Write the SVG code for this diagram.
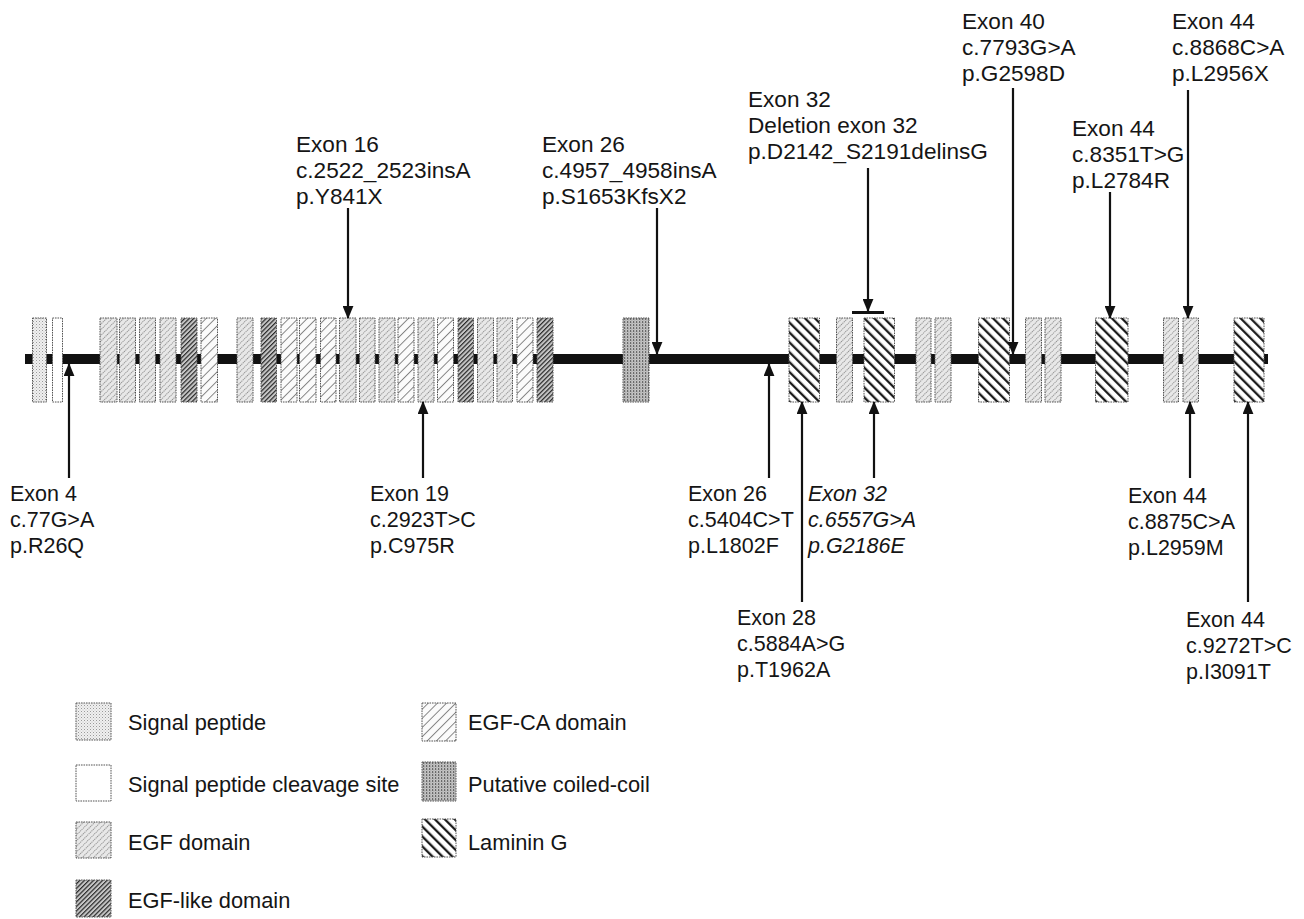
<svg xmlns="http://www.w3.org/2000/svg" width="1304" height="919" viewBox="0 0 1304 919">
<defs>
<pattern id="pSig" patternUnits="userSpaceOnUse" width="3" height="3">
<rect width="3" height="3" fill="#f0f0f0"/><rect x="0" y="0" width="1" height="1" fill="#9a9a9a"/><rect x="1.5" y="1.5" width="1" height="1" fill="#c0c0c0"/>
</pattern>
<pattern id="pEgf" patternUnits="userSpaceOnUse" width="4" height="4" patternTransform="rotate(45)">
<rect width="4" height="4" fill="#e8e8e8"/><line x1="0.5" y1="0" x2="0.5" y2="4" stroke="#858585" stroke-width="0.9" stroke-dasharray="1.2 0.8"/>
</pattern>
<pattern id="pLike" patternUnits="userSpaceOnUse" width="3.2" height="3.2" patternTransform="rotate(45)">
<rect width="3.2" height="3.2" fill="#c6c6c6"/><line x1="0.6" y1="0" x2="0.6" y2="3.2" stroke="#2a2a2a" stroke-width="1.2"/>
</pattern>
<pattern id="pCa" patternUnits="userSpaceOnUse" width="6.5" height="6.5" patternTransform="rotate(45)">
<rect width="6.5" height="6.5" fill="#fbfbfb"/><line x1="0.5" y1="0" x2="0.5" y2="6.5" stroke="#7a7a7a" stroke-width="0.9"/>
</pattern>
<pattern id="pCoil" patternUnits="userSpaceOnUse" width="3" height="3">
<rect width="3" height="3" fill="#c4c4c4"/><rect x="0" y="0" width="1.2" height="2" fill="#6a6a6a"/><rect x="1.5" y="1.5" width="0.8" height="1" fill="#8c8c8c"/>
</pattern>
<pattern id="pLam" patternUnits="userSpaceOnUse" width="7" height="7" patternTransform="rotate(-45)">
<rect width="7" height="7" fill="#ffffff"/><line x1="1.2" y1="0" x2="1.2" y2="7" stroke="#111" stroke-width="2.2"/>
</pattern>
<marker id="ah" viewBox="0 0 12 10" refX="11" refY="5" markerWidth="13" markerHeight="11" markerUnits="userSpaceOnUse" orient="auto">
<path d="M0,0 L12,5 L0,10 z" fill="#111"/>
</marker>
</defs>
<style>
.box{stroke:#555;stroke-width:1;stroke-dasharray:1.6 0.9}
.sig{fill:url(#pSig)}
.clv{fill:#fff}
.egf{fill:url(#pEgf)}
.like{fill:url(#pLike)}
.ca{fill:url(#pCa)}
.coil{fill:url(#pCoil)}
.lam{fill:url(#pLam)}
text{font-family:"Liberation Sans",Arial,Helvetica,sans-serif;fill:#151515}
.up{font-size:22.6px}
.lo{font-size:21.5px}
.it{font-style:italic}
.lg{font-size:21.8px}
.arr{stroke:#111;stroke-width:2.2;fill:none;marker-end:url(#ah)}
.tbar{stroke:#111;stroke-width:3}
</style>
<rect width="1304" height="919" fill="#fff"/>
<g id="backbone"><rect x="25" y="354" width="1243" height="10" fill="#111"/></g>
<g id="domains">
<g id="b1"><rect class="box sig" x="32.5" y="318" width="14" height="84"/></g>
<g id="b2"><rect class="box clv" x="52.5" y="318" width="10" height="84"/></g>
<g id="b3"><rect class="box egf" x="100" y="318" width="17" height="84"/></g>
<g id="b4"><rect class="box egf" x="119.5" y="318" width="16" height="84"/></g>
<g id="b5"><rect class="box egf" x="139.5" y="318" width="16" height="84"/></g>
<g id="b6"><rect class="box egf" x="160" y="318" width="16" height="84"/></g>
<g id="b7"><rect class="box like" x="181" y="318" width="16" height="84"/></g>
<g id="b8"><rect class="box ca" x="201" y="318" width="16.5" height="84"/></g>
<g id="b9"><rect class="box egf" x="237" y="318" width="16" height="84"/></g>
<g id="b10"><rect class="box like" x="261" y="318" width="15.5" height="84"/></g>
<g id="b11"><rect class="box ca" x="281" y="318" width="16" height="84"/></g>
<g id="b12"><rect class="box ca" x="299.5" y="318" width="16.5" height="84"/></g>
<g id="b13"><rect class="box ca" x="320.5" y="318" width="15.5" height="84"/></g>
<g id="b14"><rect class="box egf" x="339.5" y="318" width="16.5" height="84"/></g>
<g id="b15"><rect class="box egf" x="359.5" y="318" width="15.5" height="84"/></g>
<g id="b16"><rect class="box egf" x="379" y="318" width="16" height="84"/></g>
<g id="b17"><rect class="box ca" x="398" y="318" width="16" height="84"/></g>
<g id="b18"><rect class="box egf" x="418" y="318" width="16" height="84"/></g>
<g id="b19"><rect class="box ca" x="437.5" y="318" width="16" height="84"/></g>
<g id="b20"><rect class="box like" x="458" y="318" width="15.5" height="84"/></g>
<g id="b21"><rect class="box egf" x="477.5" y="318" width="16" height="84"/></g>
<g id="b22"><rect class="box egf" x="497" y="318" width="15.5" height="84"/></g>
<g id="b23"><rect class="box ca" x="517" y="318" width="16" height="84"/></g>
<g id="b24"><rect class="box like" x="537" y="318" width="16" height="84"/></g>
<g id="b25"><rect class="box coil" x="623" y="318" width="26" height="84"/></g>
<g id="b26"><rect class="box lam" x="789" y="318" width="30.5" height="84"/></g>
<g id="b27"><rect class="box egf" x="836.5" y="318" width="16" height="84"/></g>
<g id="b28"><rect class="box lam" x="864" y="318" width="30.5" height="84"/></g>
<g id="b29"><rect class="box egf" x="916" y="318" width="15" height="84"/></g>
<g id="b30"><rect class="box egf" x="935" y="318" width="16" height="84"/></g>
<g id="b31"><rect class="box lam" x="978.5" y="318" width="31" height="84"/></g>
<g id="b32"><rect class="box egf" x="1025.5" y="318" width="16" height="84"/></g>
<g id="b33"><rect class="box egf" x="1045" y="318" width="16" height="84"/></g>
<g id="b34"><rect class="box lam" x="1095.5" y="318" width="32.5" height="84"/></g>
<g id="b35"><rect class="box egf" x="1163.5" y="318" width="15" height="84"/></g>
<g id="b36"><rect class="box egf" x="1183" y="318" width="15.5" height="84"/></g>
<g id="b37"><rect class="box lam" x="1234" y="318" width="30" height="84"/></g>
</g>
<g id="connectors">
<line class="arr" x1="69" y1="478" x2="69" y2="364"/>
<line class="arr" x1="348" y1="208" x2="348" y2="318"/>
<line class="arr" x1="423" y1="478" x2="423" y2="402"/>
<line class="arr" x1="657" y1="208" x2="657" y2="354"/>
<line class="arr" x1="769" y1="478" x2="769" y2="364"/>
<line class="arr" x1="802" y1="602" x2="802" y2="402"/>
<line class="arr" x1="868" y1="168" x2="868" y2="311"/>
<line class="tbar" x1="852" y1="312.5" x2="884" y2="312.5"/>
<line class="arr" x1="874" y1="478" x2="874" y2="402"/>
<line class="arr" x1="1013" y1="88" x2="1013" y2="354"/>
<line class="arr" x1="1110" y1="192" x2="1110" y2="318"/>
<line class="arr" x1="1188" y1="90" x2="1188" y2="318"/>
<line class="arr" x1="1190" y1="478" x2="1190" y2="402"/>
<line class="arr" x1="1248" y1="602" x2="1248" y2="402"/>
</g>
<g id="lbl-exon16"><text class="up" x="296"><tspan x="296" y="152">Exon 16</tspan><tspan x="296" y="178">c.2522_2523insA</tspan><tspan x="296" y="204">p.Y841X</tspan></text></g>
<g id="lbl-exon26a"><text class="up" x="542"><tspan x="542" y="152">Exon 26</tspan><tspan x="542" y="178">c.4957_4958insA</tspan><tspan x="542" y="204">p.S1653KfsX2</tspan></text></g>
<g id="lbl-exon32a"><text class="up" x="748"><tspan x="748" y="107">Exon 32</tspan><tspan x="748" y="133">Deletion exon 32</tspan><tspan x="748" y="159">p.D2142_S2191delinsG</tspan></text></g>
<g id="lbl-exon40"><text class="up" x="962"><tspan x="962" y="29">Exon 40</tspan><tspan x="962" y="55">c.7793G&gt;A</tspan><tspan x="962" y="81">p.G2598D</tspan></text></g>
<g id="lbl-exon44a"><text class="up" x="1172"><tspan x="1172" y="29">Exon 44</tspan><tspan x="1172" y="55">c.8868C&gt;A</tspan><tspan x="1172" y="81">p.L2956X</tspan></text></g>
<g id="lbl-exon44b"><text class="up" x="1072"><tspan x="1072" y="136">Exon 44</tspan><tspan x="1072" y="162">c.8351T&gt;G</tspan><tspan x="1072" y="188">p.L2784R</tspan></text></g>
<g id="lbl-exon4"><text class="lo" x="10"><tspan x="10" y="501">Exon 4</tspan><tspan x="10" y="527">c.77G&gt;A</tspan><tspan x="10" y="553">p.R26Q</tspan></text></g>
<g id="lbl-exon19"><text class="lo" x="370"><tspan x="370" y="501">Exon 19</tspan><tspan x="370" y="527">c.2923T&gt;C</tspan><tspan x="370" y="553">p.C975R</tspan></text></g>
<g id="lbl-exon26b"><text class="lo" x="688"><tspan x="688" y="501">Exon 26</tspan><tspan x="688" y="527">c.5404C&gt;T</tspan><tspan x="688" y="553">p.L1802F</tspan></text></g>
<g id="lbl-exon32b"><text class="lo it" x="808"><tspan x="808" y="501">Exon 32</tspan><tspan x="808" y="527">c.6557G&gt;A</tspan><tspan x="808" y="553">p.G2186E</tspan></text></g>
<g id="lbl-exon44c"><text class="lo" x="1128"><tspan x="1128" y="503">Exon 44</tspan><tspan x="1128" y="529">c.8875C&gt;A</tspan><tspan x="1128" y="555">p.L2959M</tspan></text></g>
<g id="lbl-exon28"><text class="lo" x="737"><tspan x="737" y="625">Exon 28</tspan><tspan x="737" y="651">c.5884A&gt;G</tspan><tspan x="737" y="677">p.T1962A</tspan></text></g>
<g id="lbl-exon44d"><text class="lo" x="1186"><tspan x="1186" y="627">Exon 44</tspan><tspan x="1186" y="653">c.9272T&gt;C</tspan><tspan x="1186" y="679">p.I3091T</tspan></text></g>
<g id="legend">
<g id="lg1"><rect class="box sig" x="76" y="703" width="35" height="37"/><text class="lg" x="128" y="730">Signal peptide</text></g>
<g id="lg2"><rect class="box clv" x="76" y="765" width="35" height="36"/><text class="lg" x="128" y="792">Signal peptide cleavage site</text></g>
<g id="lg3"><rect class="box egf" x="76" y="822" width="35" height="36"/><text class="lg" x="128" y="850">EGF domain</text></g>
<g id="lg4"><rect class="box like" x="76" y="880" width="35" height="37"/><text class="lg" x="128" y="908">EGF-like domain</text></g>
<g id="lg5"><rect class="box ca" x="422" y="703" width="34" height="38"/><text class="lg" x="468" y="730">EGF-CA domain</text></g>
<g id="lg6"><rect class="box coil" x="422" y="762" width="34" height="39"/><text class="lg" x="468" y="792">Putative coiled-coil</text></g>
<g id="lg7"><rect class="box lam" x="422" y="819" width="34" height="38"/><text class="lg" x="468" y="850">Laminin G</text></g>
</g>
</svg>
